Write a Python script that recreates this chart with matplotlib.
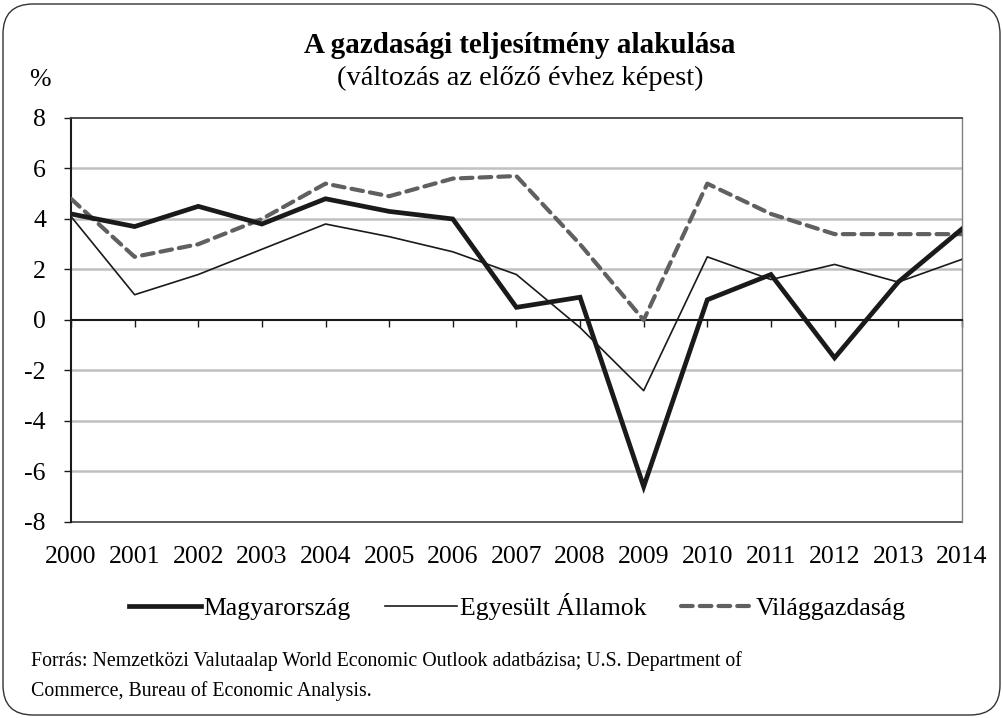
import matplotlib
matplotlib.use('Agg')
import matplotlib.pyplot as plt
from matplotlib.patches import FancyBboxPatch
from matplotlib.transforms import IdentityTransform

years = list(range(2000, 2015))
hungary = [4.2, 3.7, 4.5, 3.8, 4.8, 4.3, 4.0, 0.5, 0.9, -6.6, 0.8, 1.8, -1.5, 1.5, 3.6]
usa = [4.1, 1.0, 1.8, 2.8, 3.8, 3.3, 2.7, 1.8, -0.3, -2.8, 2.5, 1.6, 2.2, 1.5, 2.4]
world = [4.8, 2.5, 3.0, 4.0, 5.4, 4.9, 5.6, 5.7, 3.0, 0.0, 5.4, 4.2, 3.4, 3.4, 3.4]
series_names = ['Magyarország', 'Egyesült Államok', 'Világgazdaság']
y_ticks = [-8, -6, -4, -2, 0, 2, 4, 6, 8]
y_labels = ['-8', '-6', '-4', '-2', '0', '2', '4', '6', '8']

plt.rcParams['font.family'] = ['Liberation Serif', 'DejaVu Serif']
FS = 18.5

fig = plt.figure(figsize=(10.04, 7.18), dpi=100)
ax = fig.add_axes([0.0707, 0.273, 0.8873, 0.5627])

ax.plot(years, hungary, color='#1a1a1a', lw=3.4, solid_joinstyle='miter', label=series_names[0], zorder=4)
ax.plot(years, usa, color='#1a1a1a', lw=1.2, label=series_names[1], zorder=3)
ax.plot(years, world, color='#606060', lw=3.0, linestyle=(0, (2.8, 1.7)),
        dash_capstyle='round', label=series_names[2], zorder=3)

ax.set_xlim(2000, 2014)
ax.set_ylim(-8, 8)
ax.set_yticks(y_ticks)
ax.set_yticklabels(y_labels)
for v in y_ticks:
    if v not in (-8, 0, 8):
        ax.axhline(v, color='#c0c0c0', lw=1.8, zorder=1)

# zero line carries the year ticks
ax.spines['bottom'].set_position(('data', 0))
ax.spines['bottom'].set_color('#1a1a1a')
ax.spines['bottom'].set_linewidth(1.5)
ax.spines['left'].set_color('#1a1a1a')
ax.spines['left'].set_linewidth(1.5)
ax.spines['top'].set_color('#404040')
ax.spines['top'].set_linewidth(1.3)
ax.spines['right'].set_color('#808080')
ax.spines['right'].set_linewidth(1.0)
ax.set_xticks(years)
ax.tick_params(axis='x', direction='out', length=5, width=1, color='#1a1a1a', labelbottom=False)
ax.tick_params(axis='y', direction='out', length=5, width=1, color='#1a1a1a', labelsize=FS, pad=13)

sec = ax.secondary_xaxis('bottom')
sec.set_xticks(years)
sec.set_xticklabels([str(y) for y in years])
sec.tick_params(length=0, labelsize=FS, pad=17)
sec.spines['bottom'].set_color('#505050')
sec.spines['bottom'].set_linewidth(1.3)

fig.text(0.518, 0.937, 'A gazdasági teljesítmény alakulása', ha='center', va='center',
         fontsize=21, fontweight='bold')
fig.text(0.518, 0.891, '(változás az előző évhez képest)', ha='center', va='center', fontsize=20.5)
fig.text(0.040, 0.889, '%', ha='center', va='center', fontsize=FS)

fig.legend(loc='center', bbox_to_anchor=(0.515, 0.155), ncol=3, frameon=False,
           fontsize=FS, handlelength=2.8, handletextpad=0.1, columnspacing=1.35)

fig.text(0.031, 0.079, 'Forrás: Nemzetközi Valutaalap World Economic Outlook adatbázisa; U.S. Department of',
         ha='left', va='center', fontsize=14.3)
fig.text(0.031, 0.037, 'Commerce, Bureau of Economic Analysis.', ha='left', va='center', fontsize=14.3)

frame = FancyBboxPatch((3, 3), 997, 711, boxstyle='round,pad=0,rounding_size=30',
                       transform=IdentityTransform(), fill=False, ec='#333333', lw=1.0)
fig.add_artist(frame)

fig.savefig('out.png', dpi=100)
